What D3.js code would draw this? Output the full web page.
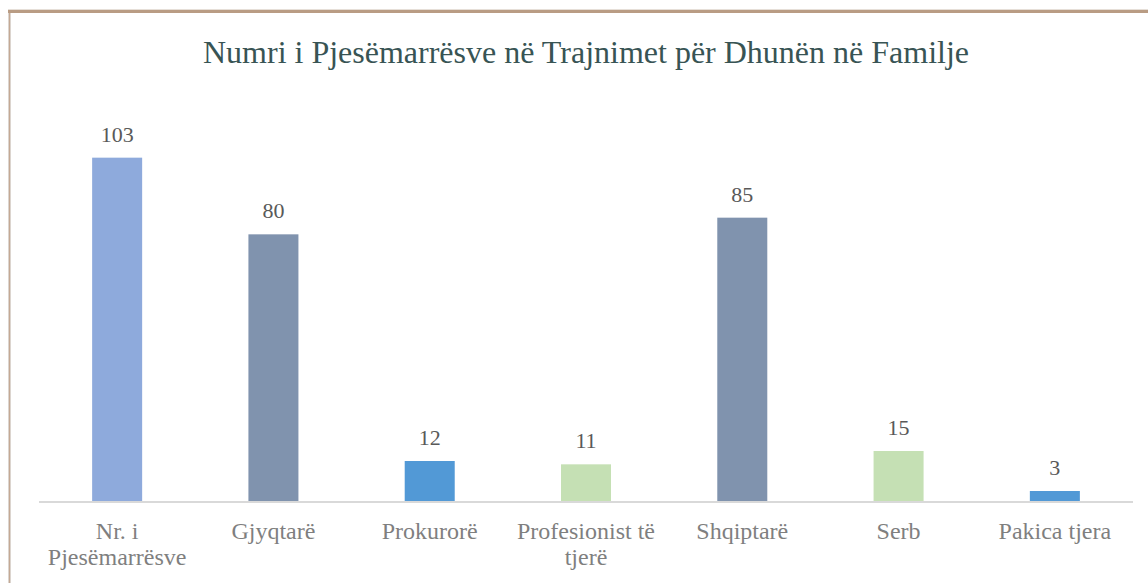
<!DOCTYPE html>
<html>
  <head>
    <meta charset="utf-8">
    <title>Numri i Pjesëmarrësve</title>
    <script src="https://d3js.org/d3.v7.min.js"></script>
    <style>
      body { margin: 0; background: #fff; }
      svg { display: block; }
      text { font-family: "Times New Roman", "Liberation Serif", Times, "DejaVu Serif", serif; }
    </style>
  </head>
  <body>
    <svg id="svg" width="1148" height="583"></svg>
    <script>
      // data
      var categories = ["Nr. i Pjesëmarrësve", "Gjyqtarë", "Prokurorë", "Profesionist të tjerë", "Shqiptarë", "Serb", "Pakica tjera"];
      var values = [103, 80, 12, 11, 85, 15, 3];
      var barColours = ["#8eaadc", "#8093ae", "#5299d6", "#c5e0b4", "#8093ae", "#c5e0b4", "#5299d6"];
      var title = "Numri i Pjesëmarrësve në Trajnimet për Dhunën në Familje";

      var svg = d3.select("#svg");
      var width = 1148, height = 583;

      // frame
      svg.append("rect").attr("x", 8).attr("y", 11).attr("width", 3).attr("height", height - 11).attr("fill", "#dcd5cf");
      svg.append("rect").attr("x", 9).attr("y", 11).attr("width", 1).attr("height", height - 11).attr("fill", "#c4a994");
      svg.append("rect").attr("x", 8).attr("y", 9).attr("width", width - 8).attr("height", 1).attr("fill", "#e6dfd8");
      svg.append("rect").attr("x", 8).attr("y", 10).attr("width", width - 8).attr("height", 3).attr("fill", "#b99c84");

      // scales
      var x = d3.scaleBand()
        .domain(categories)
        .range([39, 1133])
        .paddingInner(0.68)
        .paddingOuter(0.34);
      var y = d3.scaleLinear()
        .domain([0, 120])
        .range([501, 101]);

      // title
      svg.append("text")
        .attr("x", 586)
        .attr("y", 63)
        .attr("text-anchor", "middle")
        .attr("fill", "#385454")
        .style("font-size", "32px")
        .text(title);

      // bars
      svg.selectAll(".bar")
          .data(values)
        .enter().append("rect")
          .attr("class", "bar")
          .attr("x", function(d, i) { return x(categories[i]); })
          .attr("width", x.bandwidth())
          .attr("y", function(d) { return y(d); })
          .attr("height", function(d) { return y(0) - y(d); })
          .attr("fill", function(d, i) { return barColours[i]; });

      // baseline
      svg.append("line")
        .attr("x1", x.range()[0])
        .attr("x2", x.range()[1])
        .attr("y1", y(0) + 1)
        .attr("y2", y(0) + 1)
        .attr("stroke", "#d9d9d9")
        .attr("stroke-width", 2);

      // value labels
      svg.selectAll(".value")
          .data(values)
        .enter().append("text")
          .attr("class", "value")
          .attr("x", function(d, i) { return x(categories[i]) + x.bandwidth() / 2; })
          .attr("y", function(d) { return y(d) - 16; })
          .attr("text-anchor", "middle")
          .attr("fill", "#595959")
          .style("font-size", "22px")
          .text(function(d) { return d; });

      // category labels, wrapped to the band step
      var maxWidth = x.step() * 0.95;
      categories.forEach(function(c) {
        var t = svg.append("text")
          .attr("text-anchor", "middle")
          .attr("fill", "#7f7f7f")
          .style("font-size", "24px");
        var cx = x(c) + x.bandwidth() / 2;
        var words = c.split(" "), line = [], lineNo = 0;
        var tspan = t.append("tspan").attr("x", cx).attr("y", 539);
        words.forEach(function(w) {
          line.push(w);
          tspan.text(line.join(" "));
          if (tspan.node().getComputedTextLength() > maxWidth && line.length > 1) {
            line.pop();
            tspan.text(line.join(" "));
            line = [w];
            lineNo++;
            tspan = t.append("tspan").attr("x", cx).attr("y", 539 + lineNo * 26).text(w);
          }
        });
      });
    </script>
  </body>
</html>
